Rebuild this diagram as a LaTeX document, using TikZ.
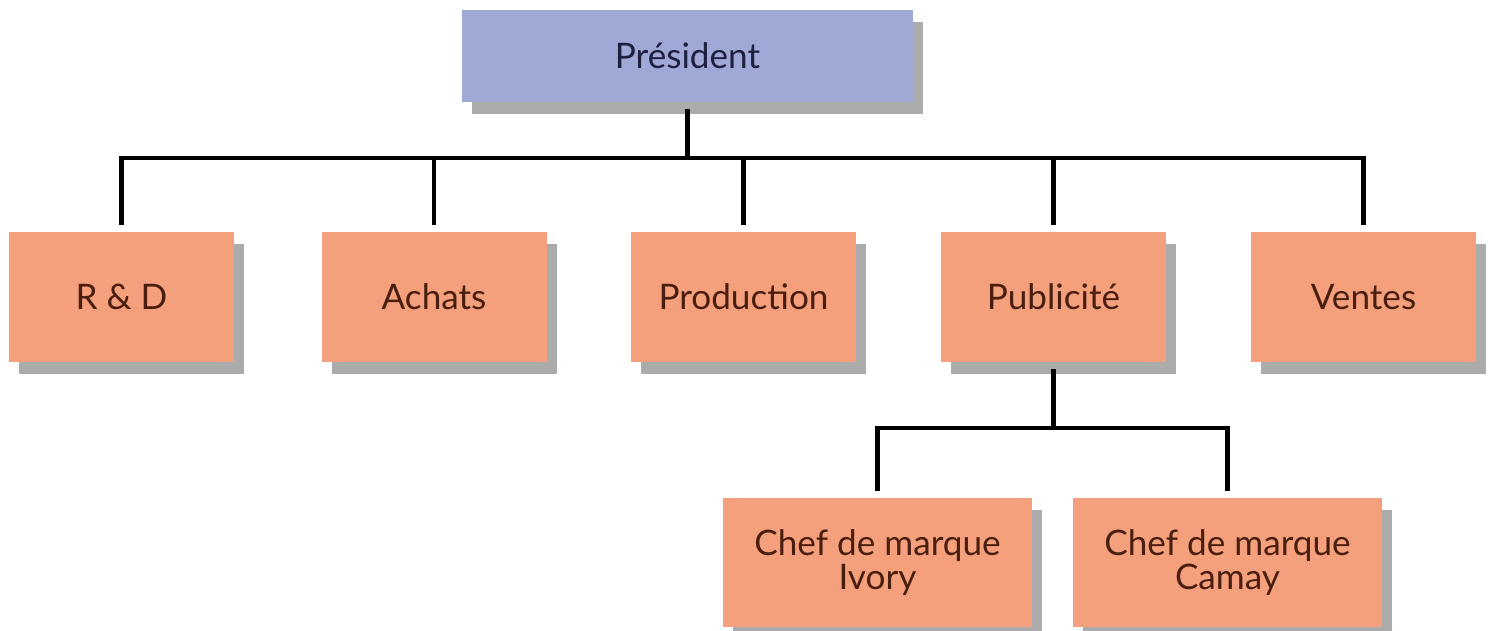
\documentclass[tikz,border=0pt]{standalone}
\usepackage{fontspec}
\setmainfont{Lato}
\usetikzlibrary{shadows}
\definecolor{presblue}{HTML}{A0A8D6}
\definecolor{deptorange}{HTML}{F4A07D}
\definecolor{presink}{HTML}{1E2040}
\definecolor{deptink}{HTML}{4A1E0E}
\begin{document}
\begin{tikzpicture}[
    box/.style={rectangle, minimum width=4.5cm, minimum height=2.6cm, outer sep=0.14cm,
        fill=deptorange, text=deptink, align=center,
        font=\fontsize{20}{19}\selectfont,
        drop shadow={shadow xshift=0.2cm, shadow yshift=-0.24cm, fill=black!55, opacity=0.6}},
    link/.style={line width=2.5pt, black}]
    \useasboundingbox (0,0) rectangle (29.8,12.6);
    % Sommet
    \node[box, fill=presblue, text=presink, minimum width=9.02cm, minimum height=1.84cm] (pres) at (13.75, 11.48) {Président};

    % Départements
    \node[box] (rd) at (2.43, 6.66) {R \& D};
    \node[box] (ach) at (8.68, 6.66) {Achats};
    \node[box] (prod) at (14.87, 6.66) {Production};
    \node[box] (pub) at (21.07, 6.66) {Publicité};
    \node[box] (ven) at (27.27, 6.66) {Ventes};

    % Chefs de marque
    \node[box, minimum width=6.18cm, minimum height=2.58cm] (ivo) at (17.55, 1.35) {Chef de marque\\Ivory};
    \node[box, minimum width=6.18cm, minimum height=2.58cm] (cam) at (24.55, 1.35) {Chef de marque\\Camay};

    % Liaisons
    \coordinate (bus) at (13.75, 9.44);
    \coordinate (subbus) at (21.07, 4.04);
    \draw[link] (pres.south) -- (bus);
    \draw[link] (rd.north) |- (bus) -| (ven.north);
    \foreach \n in {ach, prod, pub}
        \draw[link] (\n.north) -- (\n |- bus);
    \draw[link] (pub.south) -- (subbus);
    \draw[link] (ivo.north) |- (subbus) -| (cam.north);
\end{tikzpicture}
\end{document}
